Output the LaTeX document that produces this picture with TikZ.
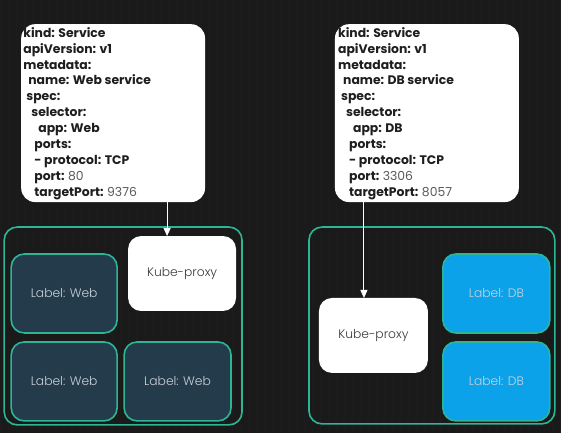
\documentclass[tikz,border=0pt]{standalone}
\usepackage{fontspec}
\setmainfont{Poppins}
\newfontfamily\lightfont{Poppins}[UprightFont={* Light}]
\usetikzlibrary{arrows.meta}
\definecolor{bg}{HTML}{1A1A1A}
\definecolor{gridc}{HTML}{1C1C1C}
\definecolor{green}{HTML}{2DB596}
\definecolor{webfill}{HTML}{243B4B}
\definecolor{dbfill}{HTML}{0BA2EA}
\definecolor{labtext}{HTML}{C9D2DA}
\definecolor{yamltext}{HTML}{1E1E1E}
\definecolor{numc}{HTML}{5A5A5A}
\definecolor{proxytext}{HTML}{3A3A3A}
\tikzset{
  yamlbox/.style={fill=white, rounded corners=14pt, inner sep=0pt},
  container/.style={draw=green, line width=1.6pt, rounded corners=13pt},
  webpod/.style={draw=green, line width=1.6pt, fill=webfill, rounded corners=13pt},
  dbpod/.style={draw=green, line width=1.6pt, fill=dbfill, rounded corners=13pt},
  proxy/.style={fill=white, rounded corners=13pt},
  podlabel/.style={font=\lightfont\fontsize{12.3}{14}\selectfont, text=labtext},
  proxylabel/.style={font=\lightfont\fontsize{12.3}{14}\selectfont, text=proxytext},
  yaml/.style={anchor=north west, inner sep=0pt, align=left, text=yamltext,
    font=\bfseries\fontsize{12.4}{15.9}\selectfont},
  conn/.style={draw=white, line width=1pt, -{Triangle[width=7pt,length=8pt,fill=white]}}
}
\newcommand{\nm}[1]{\textcolor{numc}{\mdseries #1}}
\begin{document}
\begin{tikzpicture}[x=1pt,y=-1pt]
\fill[bg] (0,0) rectangle (561,433);
\draw[gridc, line width=0.4pt, step=8] (0,0) grid (561,433);
\useasboundingbox (0,0) rectangle (561,433);

% YAML boxes
\path[yamlbox] (21,24) rectangle (205,202);
\coordinate (yweb) at (167,202);
\node[yaml] (ytextweb) at (23,27) {kind: Service\\apiVersion: v1\\metadata:\\\hspace*{5pt}name: Web service\\\hspace*{3pt}spec:\\\hspace*{8pt}selector:\\\hspace*{15pt}app: Web\\\hspace*{11pt}ports:\\\hspace*{11pt}- protocol: TCP\\\hspace*{11pt}port: \nm{80}\\\hspace*{11pt}targetPort: \nm{9376}};

\path[yamlbox] (335,24) rectangle (519,202);
\coordinate (ydb) at (364,202);
\node[yaml] (ytextdb) at (338,27) {kind: Service\\apiVersion: v1\\metadata:\\\hspace*{5pt}name: DB service\\\hspace*{3pt}spec:\\\hspace*{8pt}selector:\\\hspace*{15pt}app: DB\\\hspace*{11pt}ports:\\\hspace*{11pt}- protocol: TCP\\\hspace*{11pt}port: \nm{3306}\\\hspace*{11pt}targetPort: \nm{8057}};

% containers
\draw[container] (4,227) rectangle (242,425);
\draw[container] (309,227) rectangle (555,424);

% web side
\draw[webpod] (11,254) rectangle (117,333);
\node[podlabel] (w1) at (64,293.5) {Label: Web};
\draw[webpod] (11,342) rectangle (117,421);
\node[podlabel] (w2) at (64,381.5) {Label: Web};
\draw[webpod] (124,342) rectangle (231,421);
\node[podlabel] (w3) at (177.5,381.5) {Label: Web};
\path[proxy] (128,236) rectangle (236,311);
\coordinate (kpweb) at (167,236);
\node[proxylabel] (kp1) at (182,273.5) {Kube-proxy};

% db side
\path[proxy] (319,298) rectangle (428,373);
\coordinate (kpdb) at (364,298);
\node[proxylabel] (kp2) at (373.5,335.5) {Kube-proxy};
\draw[dbpod] (443,254) rectangle (550,333);
\node[podlabel] (d1) at (496.5,293.5) {Label: DB};
\draw[dbpod] (443,342) rectangle (550,421);
\node[podlabel] (d2) at (496.5,381.5) {Label: DB};

% connectors
\draw[conn] (yweb) -- (kpweb);
\draw[conn] (ydb) -- (kpdb);
\end{tikzpicture}
\end{document}
